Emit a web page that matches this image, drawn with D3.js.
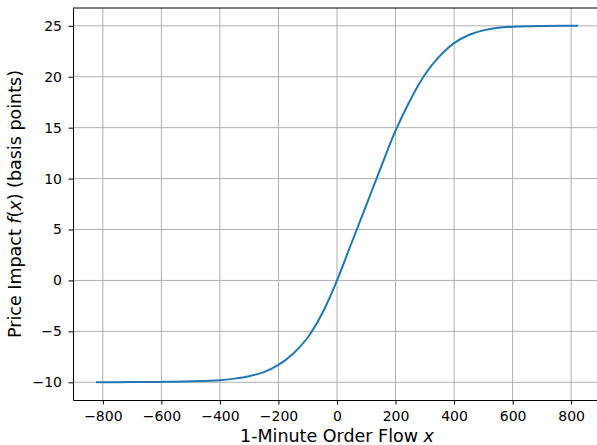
<!DOCTYPE html>
<html>
<head>
<meta charset="utf-8">
<script src="https://cdn.jsdelivr.net/npm/d3@7"></script>
<style>
  html, body { margin: 0; padding: 0; background: #fff; }
  svg text { font-family: "DejaVu Sans", sans-serif; fill: #000; }
</style>
</head>
<body>
<div id="chart"></div>
<script>
// order flow (x) and price impact (bps)
var flowX   = [-820, -700, -600, -500, -400, -350, -300, -250, -200, -150, -100, -50,
               0, 50, 100, 150, 200, 250, 300, 350, 400, 450, 500, 550, 600, 700, 820];
var impactY = [-9.99, -9.98, -9.96, -9.91, -9.8, -9.64, -9.4, -9.0, -8.3, -7.2, -5.6, -3.2,
               0, 3.7, 7.4, 11.1, 14.7, 17.7, 20.2, 22.0, 23.3, 24.1, 24.55, 24.8, 24.92, 24.99, 25.0];
var xTicks  = [-800, -600, -400, -200, 0, 200, 400, 600, 800];
var yTicks  = [-10, -5, 0, 5, 10, 15, 20, 25];

(function () {
    var W = 597, H = 445;
    var margin = { top: 8, right: -4, bottom: 45, left: 73 };
    var iW = W - margin.left - margin.right;
    var iH = H - margin.top - margin.bottom;

    var pts = flowX.map(function (x, i) { return { x: x, y: impactY[i] }; });

    // matplotlib-style 5% margins around the data range
    var xExt = d3.extent(flowX), yExt = d3.extent(impactY);
    var xPad = (xExt[1] - xExt[0]) * 0.05, yPad = (yExt[1] - yExt[0]) * 0.05;

    var x = d3.scaleLinear().domain([xExt[0] - xPad, xExt[1] + xPad]).range([0, iW]);
    var y = d3.scaleLinear().domain([yExt[0] - yPad, yExt[1] + yPad]).range([iH, 0]);

    var svg = d3.select("#chart").append("svg")
        .attr("width", W).attr("height", H);
    var g = svg.append("g")
        .attr("transform", "translate(" + margin.left + "," + margin.top + ")");

    var minus = function (v) { return String(v).replace("-", "\u2212"); };

    // grid
    g.append("g").selectAll("line").data(xTicks).enter().append("line")
        .attr("x1", function (d) { return x(d); }).attr("x2", function (d) { return x(d); })
        .attr("y1", 0).attr("y2", iH)
        .attr("stroke", "#b0b0b0").attr("stroke-width", 1);
    g.append("g").selectAll("line").data(yTicks).enter().append("line")
        .attr("y1", function (d) { return y(d); }).attr("y2", function (d) { return y(d); })
        .attr("x1", 0).attr("x2", iW)
        .attr("stroke", "#b0b0b0").attr("stroke-width", 1);

    // curve
    var line = d3.line()
        .x(function (d) { return x(d.x); })
        .y(function (d) { return y(d.y); })
        .curve(d3.curveCatmullRom.alpha(0.5));
    g.append("path").datum(pts)
        .attr("fill", "none")
        .attr("stroke", "#1f77b4")
        .attr("stroke-width", 2)
        .attr("stroke-linecap", "square")
        .attr("d", line);

    // axes
    var ax = g.append("g").attr("transform", "translate(0," + iH + ")")
        .call(d3.axisBottom(x).tickValues(xTicks).tickFormat(minus).tickSize(4.5).tickPadding(6.5).tickSizeOuter(0));
    var ay = g.append("g")
        .call(d3.axisLeft(y).tickValues(yTicks).tickFormat(minus).tickSize(4.5).tickPadding(6.5).tickSizeOuter(0));

    [ax, ay].forEach(function (a) {
        a.select(".domain").attr("stroke", "#000").attr("stroke-width", 1);
        a.selectAll(".tick line").attr("stroke", "#000").attr("stroke-width", 1);
        a.selectAll(".tick text")
            .style("font-family", "'DejaVu Sans', sans-serif")
            .style("font-size", "14px")
            .attr("fill", "#000");
    });

    // top and right spines
    g.append("line").attr("x1", 0).attr("x2", iW).attr("y1", 0).attr("y2", 0)
        .attr("stroke", "#000").attr("stroke-width", 1);
    g.append("line").attr("x1", iW).attr("x2", iW).attr("y1", 0).attr("y2", iH)
        .attr("stroke", "#000").attr("stroke-width", 1);

    // axis labels
    var xl = svg.append("text")
        .attr("x", margin.left + x(0))
        .attr("y", 442)
        .attr("text-anchor", "middle")
        .style("font-size", "17.5px");
    xl.append("tspan").text("1-Minute Order Flow ");
    xl.append("tspan").style("font-style", "italic").text("x");

    var yl = svg.append("text")
        .attr("transform", "translate(21," + (margin.top + iH / 2) + ") rotate(-90)")
        .attr("text-anchor", "middle")
        .style("font-size", "17.5px");
    yl.append("tspan").text("Price Impact ");
    yl.append("tspan").style("font-style", "italic").text("f");
    yl.append("tspan").text("(");
    yl.append("tspan").style("font-style", "italic").text("x");
    yl.append("tspan").text(") (basis points)");
}());
</script>
</body>
</html>
